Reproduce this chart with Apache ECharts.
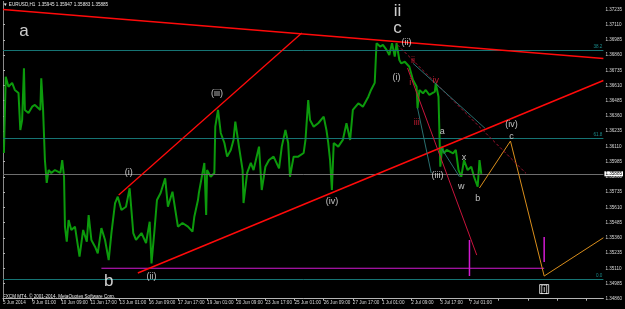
<!DOCTYPE html>
<html><head><meta charset="utf-8">
<script src="https://cdn.jsdelivr.net/npm/echarts@6/dist/echarts.min.js"></script>
<style>html,body{margin:0;padding:0;background:#000}#c{width:625px;height:309px}</style>
</head><body><div id="c"></div>
<script>
// ---- tick labels ----
const timeLabels = ['5 Jun 2014','9 Jun 01:00','10 Jun 09:00','11 Jun 17:00','13 Jun 01:00','16 Jun 09:00','17 Jun 17:00','19 Jun 01:00','20 Jun 09:00','23 Jun 17:00','25 Jun 01:00','26 Jun 09:00','27 Jun 17:00','1 Jul 01:00','2 Jul 09:00','3 Jul 17:00','7 Jul 01:00'];
const barsPerLabel = 32;
const priceStep = 0.00125;
const priceMin = 1.3486;
const priceMax = 1.373;
const headerText = '\u25BC EURUSD,H1  1.35945 1.35947 1.35883 1.35885';
const footerText = 'FXCM MT4, \u00A9 2001-2014, MetaQuotes Software Corp.';

// ---- EURUSD H1 trace (bar index, price) ----
const priceBars = [1,3,6,10,13,17,19,21,23,24,28,32,35,41,42,44,46,48,50,53,57,63,65,67,68,70,72,75,79,84,88,92,94,97,101,104,108,112,116,119,123,126,130,135,139,143,146,152,157,161,163,166,169,173,178,181,186,192,197,203,208,210,214,215,221,223,224,228,232,233,236,239,243,246,250,253,255,259,263,264,268,272,275,281,284,288,292,297,303,306,310,313,315,319,324,330,332,335,337,341,346,352,355,357,359,361,363,368,373,377,381,384,390,395,401,404,408,410,414,417,421,424,427,430,432,435,437,441,446,450,454,455,457,461,464,468,474,475,478,480,482,484,487,494,497,500,503,506,510,514,517,521,523,525];
const priceValues = [1.36056,1.36682,1.36600,1.36631,1.36573,1.36549,1.36245,1.36327,1.36751,1.36409,1.36384,1.36436,1.36450,1.36409,1.36669,1.36409,1.35998,1.35810,1.35916,1.35892,1.35916,1.35892,1.35998,1.35861,1.35451,1.35328,1.35506,1.35424,1.35451,1.35205,1.35424,1.35328,1.35547,1.35342,1.35287,1.35232,1.35440,1.35342,1.35177,1.35399,1.35645,1.35697,1.35588,1.35615,1.35766,1.35399,1.35342,1.35399,1.35317,1.35492,1.35150,1.35399,1.35670,1.35728,1.35848,1.35615,1.35738,1.35451,1.35481,1.35451,1.35410,1.35533,1.35670,1.35728,1.35974,1.35547,1.35916,1.35861,1.35892,1.36272,1.36409,1.36220,1.36138,1.36026,1.36081,1.36163,1.36313,1.36108,1.35916,1.35645,1.35892,1.35974,1.35916,1.36108,1.35752,1.35943,1.35998,1.36026,1.35930,1.36108,1.36245,1.36138,1.35861,1.36026,1.36026,1.36056,1.36163,1.36491,1.36327,1.36272,1.36300,1.36354,1.36245,1.36138,1.35998,1.35752,1.36138,1.36108,1.36163,1.36300,1.36163,1.36409,1.36464,1.36436,1.36518,1.36573,1.36631,1.36957,1.36929,1.36943,1.36902,1.36860,1.36957,1.36847,1.36957,1.36819,1.36792,1.36805,1.36764,1.36655,1.36600,1.36423,1.36573,1.36546,1.36573,1.36532,1.36559,1.36628,1.36518,1.35943,1.36108,1.36053,1.36081,1.36053,1.36081,1.35916,1.35861,1.35998,1.35916,1.35943,1.35861,1.35779,1.35998,1.35885];
const currentPrice = 1.35885;

// ---- horizontal levels ----
const fibLevels = [1.36901, 1.36179, 1.35022];
const fibNames = ['38.2', '61.8', '0.0'];

// ---- drawn lines (bar index, price) ----
const topRedLine = [[0,1.37233],[659,1.36832]];
const risingRedLine = [[127,1.35711],[328,1.37041]];
const lowerRedLine = [[148,1.35071],[659,1.36651]];
const magentaFloor = [[108,1.3511],[594,1.3511]];
const magentaMark1 = [[512,1.35342],[512,1.35046]];
const magentaMark2 = [[594,1.35366],[594,1.35161]];
const orangePath = [[523,1.35769],[557,1.36154],[594,1.35046],[659,1.3536]];
const darkRedDashed = [[433,1.36943],[574,1.35889]];
const crimsonLine = [[444,1.36754],[520,1.35218]];
const tealLineA = [[450,1.36792],[529,1.36259]];
const tealLineB = [[455,1.36425],[470,1.35892]];
const tealLineC = [[481,1.36097],[501,1.35861]];

// ---- wave labels (bar index, price, text) ----
const bigLabels = [[23,1.37052,'a'],[116,1.34999,'b'],[433,1.37082,'c'],[433,1.37222,'ii']];
const smallLabels = [[138,1.35897,'(i)'],[163,1.35046,'(ii)'],[235,1.36546,'(iii)'],[361,1.35656,'(iv)'],[443,1.36965,'(ii)'],[432,1.36677,'(i)'],[482,1.36231,'a'],[506,1.36015,'x'],[503,1.35779,'w'],[521,1.35686,'b'],[477,1.35875,'(iii)'],[558,1.36286,'(iv)'],[558,1.36195,'c']];
const redLabels = [[450,1.36811,'ii'],[447,1.36631,'i'],[454,1.36302,'iii'],[475,1.3665,'iv']];
const boxLabels = [[594,1.34939,'[i]']];

const FONT = 'Liberation Sans';
const chart = echarts.init(document.getElementById('c'));

function seg(data, color, width, type, z) {
  return {type:'line', data: data, showSymbol:false, symbol:'none', silent:true, animation:false,
    lineStyle:{color:color, width:width, type:type||'solid'}, z: z||3};
}
function labels(list, color, size, extra) {
  return {type:'scatter', symbolSize:1, itemStyle:{color:'rgba(0,0,0,0)'}, silent:true, animation:false, z:10,
    data: list.map(d => ({value:[d[0], d[1]], name:d[2]})),
    label: Object.assign({show:true, position:'inside', formatter:'{b}', color:color, fontSize:size, fontFamily:FONT}, extra||{})};
}

const option = {
  backgroundColor:'#000',
  animation:false,
  grid:{left:1, right:20, top:1.4, bottom:10.3},
  xAxis:{type:'value', min:0, max:659, interval:barsPerLabel,
    axisLine:{show:true, onZero:false, lineStyle:{color:'#b4b4b4', width:1}},
    axisTick:{show:true, length:2, lineStyle:{color:'#b4b4b4'}},
    splitLine:{show:false},
    axisLabel:{show:true, color:'#d8d8d8', fontSize:4.6, fontFamily:FONT, margin:1.5, align:'left',
      showMaxLabel:false,
      formatter: v => { const k = Math.round(v / barsPerLabel); return (Math.abs(v / barsPerLabel - k) < 0.01 && timeLabels[k]) ? timeLabels[k] : ''; }}},
  yAxis:[{type:'value', position:'right', min:priceMin, max:priceMax, interval:priceStep,
    axisLine:{show:true, lineStyle:{color:'#b4b4b4', width:1}},
    axisTick:{show:true, length:2, lineStyle:{color:'#b4b4b4'}},
    splitLine:{show:false},
    axisLabel:{color:'#d8d8d8', fontSize:4.6, fontFamily:FONT, margin:2, showMaxLabel:false,
      formatter: v => { const k = (v - priceMin) / priceStep; return Math.abs(k - Math.round(k)) < 0.01 ? v.toFixed(5) : ''; }}},
   {type:'value', position:'left', min:priceMin, max:priceMax,
    axisLine:{show:true, lineStyle:{color:'#8a8a8a', width:1}}, axisTick:{show:false}, axisLabel:{show:false}, splitLine:{show:false}}],
  graphic:[
    {type:'text', left:3, top:2.5, style:{text:headerText, fill:'#e8e8e8', font:'4.6px "Liberation Sans"'}},
    {type:'text', left:3, top:294, style:{text:footerText, fill:'#e8e8e8', font:'4.6px "Liberation Sans"'}}
  ],
  series:[
    {type:'line', data:[], silent:true, animation:false, z:1,
      markLine:{silent:true, symbol:['none','none'], animation:false, precision:5,
        lineStyle:{color:'#167474', width:1, type:'solid'},
        label:{show:true, position:'insideEndTop', color:'#1a8a8a', fontSize:4.6, fontFamily:FONT, distance:1, formatter:'{b}'},
        data: fibLevels.map((v,i) => ({yAxis:v, name:fibNames[i]}))}},
    {type:'line', data:[], silent:true, animation:false, z:1,
      markLine:{silent:true, symbol:['none','none'], animation:false, precision:5,
        lineStyle:{color:'#6e6e6e', width:1, type:'solid'},
        label:{show:true, position:'end', distance:1, color:'#000', backgroundColor:'#fff', padding:[0,1], fontSize:4.6, fontFamily:FONT, formatter: () => currentPrice.toFixed(5)},
        data:[{yAxis:currentPrice}]}},
    seg(magentaFloor, '#d21ad2', 1.2, 'solid', 2),
    {type:'line', data: priceBars.map((b,i) => [b, priceValues[i]]), showSymbol:false, symbol:'none', silent:true, animation:false, z:4,
      lineStyle:{color:'#0c9a0c', width:2}},
    seg(topRedLine, '#ff0a0a', 1.5, 'solid', 5),
    seg(risingRedLine, '#ff0a0a', 1.3, 'solid', 5),
    seg(lowerRedLine, '#ff0a0a', 1.5, 'solid', 5),
    seg(magentaMark1, '#d21ad2', 1.5, 'solid', 5),
    seg(magentaMark2, '#d21ad2', 1.5, 'solid', 5),
    seg(orangePath, '#d98e1c', 1, 'solid', 5),
    seg(darkRedDashed, '#9c1230', 1, [3,2], 5),
    seg(crimsonLine, '#c8143c', 1, 'solid', 5),
    seg(tealLineA, '#2a7070', 1, 'solid', 5),
    seg(tealLineB, '#2a7070', 1, 'solid', 5),
    seg(tealLineC, '#2a7070', 1, 'solid', 5),
    labels(bigLabels, '#ffffff', 17),
    labels(smallLabels, '#ececec', 9),
    labels(redLabels, '#e8203c', 9),
    labels(boxLabels, '#ffffff', 9, {borderColor:'#ffffff', borderWidth:1, padding:[0,1]})
  ]
};
chart.setOption(option);
</script>
</body></html>
